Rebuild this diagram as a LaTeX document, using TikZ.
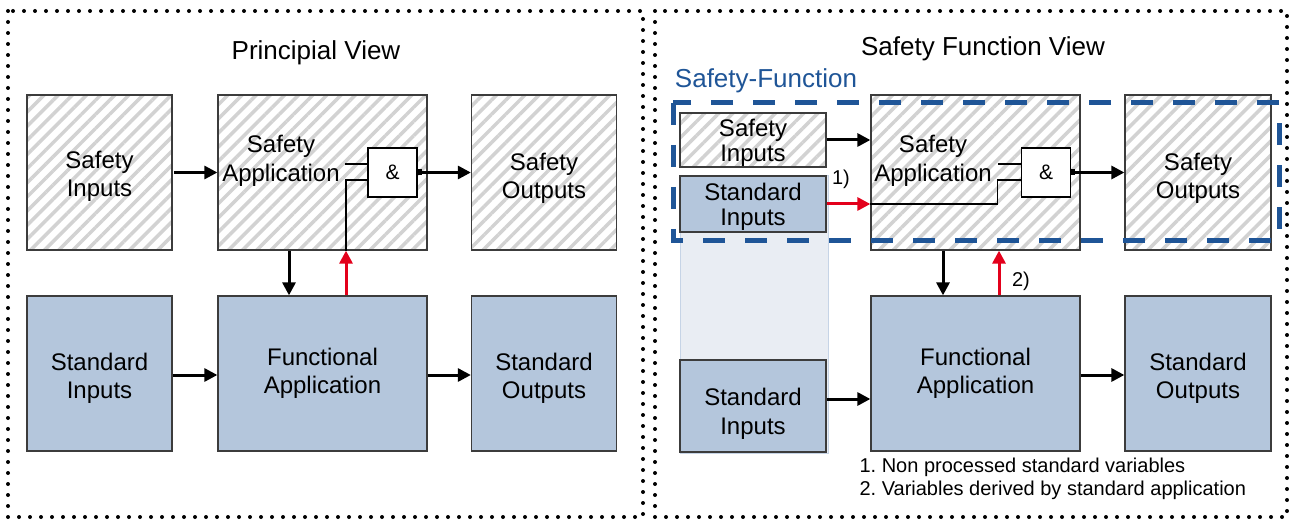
\documentclass[tikz,border=0pt]{standalone}
\usepackage{fontspec}
\setmainfont{Liberation Sans}
\usetikzlibrary{patterns.meta,arrows.meta}

\definecolor{stdfill}{HTML}{B4C6DC}
\definecolor{colfill}{HTML}{E9EDF3}
\definecolor{colline}{HTML}{C6D4E6}
\definecolor{sfblue}{HTML}{1F5597}
\definecolor{hatchgray}{HTML}{D2D2D2}
\definecolor{boxline}{HTML}{3C3C3C}
\definecolor{sigred}{HTML}{E3001B}

\tikzset{
  boxbase/.style={draw=boxline, line width=1.3pt, inner sep=0pt},
  hatchbox/.style={boxbase, pattern={Lines[angle=45,distance=10pt,line width=3.5pt]},
    pattern color=hatchgray},
  stdbox/.style={boxbase, fill=stdfill},
  boxtext/.style={inner sep=0pt, align=center, font=\fontsize{24}{28.5}\selectfont},
  smalltext/.style={boxtext, font=\fontsize{24}{25}\selectfont},
  gatebox/.style={draw=black, line width=1.5pt, fill=white, minimum width=49pt,
    minimum height=49pt, inner sep=0pt, font=\fontsize{21}{24}\selectfont},
  arr/.style={line width=3pt, -{Triangle[length=13pt,width=13pt]}},
  redarr/.style={arr, draw=sigred, -{Triangle[length=13pt,width=13pt,fill=sigred]}},
  wire/.style={line width=1.3pt},
  dotframe/.style={line width=4pt, line cap=round, dash pattern=on 0pt off 11pt},
  title/.style={font=\fontsize{26}{30}\selectfont},
  label/.style={font=\fontsize{20}{23}\selectfont},
}

\begin{document}
\begin{tikzpicture}[x=1pt,y=-1pt]
\useasboundingbox (0,0) rectangle (1289,521);

% panel frames
\draw[dotframe] (8,11) rectangle (643,517);
\draw[dotframe] (655,11) rectangle (1287,517);

% ---------- principal view ----------
\node[title] (ltitle) at (316,53) {Principial View};

\node[hatchbox, minimum width=145pt, minimum height=155pt] (lsi) at (99.5,172.5) {};
\node[hatchbox, minimum width=209pt, minimum height=155pt] (lsa) at (322.5,172.5) {};
\node[hatchbox, minimum width=145pt, minimum height=155pt] (lso) at (544,172.5) {};
\node[stdbox, minimum width=145pt, minimum height=155pt] (lsti) at (99.5,373.5) {};
\node[stdbox, minimum width=209pt, minimum height=155pt] (lfa) at (322.5,373.5) {};
\node[stdbox, minimum width=145pt, minimum height=155pt] (lsto) at (544,373.5) {};

\node[boxtext] (lsiT) at (99.5,176.5) {Safety\\Inputs};
\node[boxtext] (lsaT) at (281,161) {Safety\\Application};
\node[boxtext] (lsoT) at (544,178.5) {Safety\\Outputs};
\node[boxtext] (lstiT) at (99.5,378.5) {Standard\\Inputs};
\node[boxtext] (lfaT) at (322.5,373.5) {Functional\\Application};
\node[boxtext] (lstoT) at (544,378.5) {Standard\\Outputs};

\node[gatebox] (lg) at (392.5,172.5) {\&};

% gate wiring
\draw[wire] ([xshift=-22pt,yshift=8.5pt]lg.west) -- ([yshift=8.5pt]lg.west);
\draw[wire] ([xshift=23.5pt]lsa.south) |- ([yshift=-7.5pt]lg.west);
\fill ([yshift=3pt]lg.east) rectangle ([xshift=4pt,yshift=-3pt]lg.east);

% signal flow
\draw[arr] (lsi.east) -- (lsa.west);
\draw[arr] ([xshift=4pt]lg.east) -- (lso.west);
\draw[arr] ([xshift=-33.5pt]lsa.south) -- ([xshift=-33.5pt]lfa.north);
\draw[redarr] ([xshift=23.5pt]lfa.north) -- ([xshift=23.5pt]lsa.south);
\draw[arr] ([yshift=-1.5pt]lsti.east) -- ([yshift=-1.5pt]lfa.west);
\draw[arr] ([yshift=-1.5pt]lfa.east) -- ([yshift=-1.5pt]lsto.west);

% ---------- safety function view ----------
\node[title] (rtitle) at (983,49) {Safety Function View};
\node[title, text=sfblue] (sflabel) at (766,81) {Safety-Function};

% column of standard inputs
\draw[fill=colfill, draw=colline, line width=1pt] (680,176) rectangle (828,453);

\node[hatchbox, minimum width=146pt, minimum height=54pt] (rsi) at (753,140) {};
\node[stdbox, minimum width=146pt, minimum height=56pt] (rsti1) at (753,204) {};
\node[stdbox, minimum width=146pt, minimum height=92pt] (rsti2) at (753,406) {};
\node[hatchbox, minimum width=209pt, minimum height=155pt] (rsa) at (975.5,172.5) {};
\node[hatchbox, minimum width=146pt, minimum height=155pt] (rso) at (1198,172.5) {};
\node[stdbox, minimum width=209pt, minimum height=155pt] (rfa) at (975.5,373.5) {};
\node[stdbox, minimum width=146pt, minimum height=155pt] (rsto) at (1198,373.5) {};

\node[smalltext] (rsiT) at (753,142.5) {Safety\\Inputs};
\node[smalltext] (rsti1T) at (753,206.5) {Standard\\Inputs};
\node[boxtext] (rsti2T) at (753,414) {Standard\\Inputs};
\node[boxtext] (rsaT) at (933,161) {Safety\\Application};
\node[boxtext] (rsoT) at (1198,178.5) {Safety\\Outputs};
\node[boxtext] (rfaT) at (975.5,373.5) {Functional\\Application};
\node[boxtext] (rstoT) at (1198,378.5) {Standard\\Outputs};

\node[gatebox] (rg) at (1046,172.5) {\&};

% gate wiring
\draw[wire] ([xshift=-23pt,yshift=8.5pt]rg.west) -- ([yshift=8.5pt]rg.west);
\draw[wire] (rsti1.east -| rsa.west) -| ([xshift=-23pt,yshift=-7.5pt]rg.west) -- ([yshift=-7.5pt]rg.west);
\fill ([yshift=3pt]rg.east) rectangle ([xshift=4pt,yshift=-3pt]rg.east);

% signal flow
\draw[arr] (rsi.east) -- (rsi.east -| rsa.west);
\draw[redarr] (rsti1.east) -- (rsti1.east -| rsa.west);
\draw[arr] ([xshift=4pt]rg.east) -- (rso.west);
\draw[arr] ([xshift=-32.5pt]rsa.south) -- ([xshift=-32.5pt]rfa.north);
\draw[redarr] ([xshift=23.5pt]rfa.north) -- ([xshift=23.5pt]rsa.south);
\draw[arr] ([yshift=7pt]rsti2.east) -- ([yshift=7pt]rsti2.east -| rfa.west);
\draw[arr] ([yshift=-1.5pt]rfa.east) -- ([yshift=-1.5pt]rsto.west);

\node[label] (n1) at (841,179) {1)};
\node[label] (n2) at (1021,281) {2)};

% safety function boundary
\draw[sfblue, line width=5pt, dash pattern=on 22pt off 20pt] (673,103) rectangle (1279,241);

% legend
\node[label, anchor=west] (leg1) at (856,467) {\frenchspacing 1. Non processed standard variables};
\node[label, anchor=west] (leg2) at (856,490) {\frenchspacing 2. Variables derived by standard application};
\end{tikzpicture}
\end{document}
